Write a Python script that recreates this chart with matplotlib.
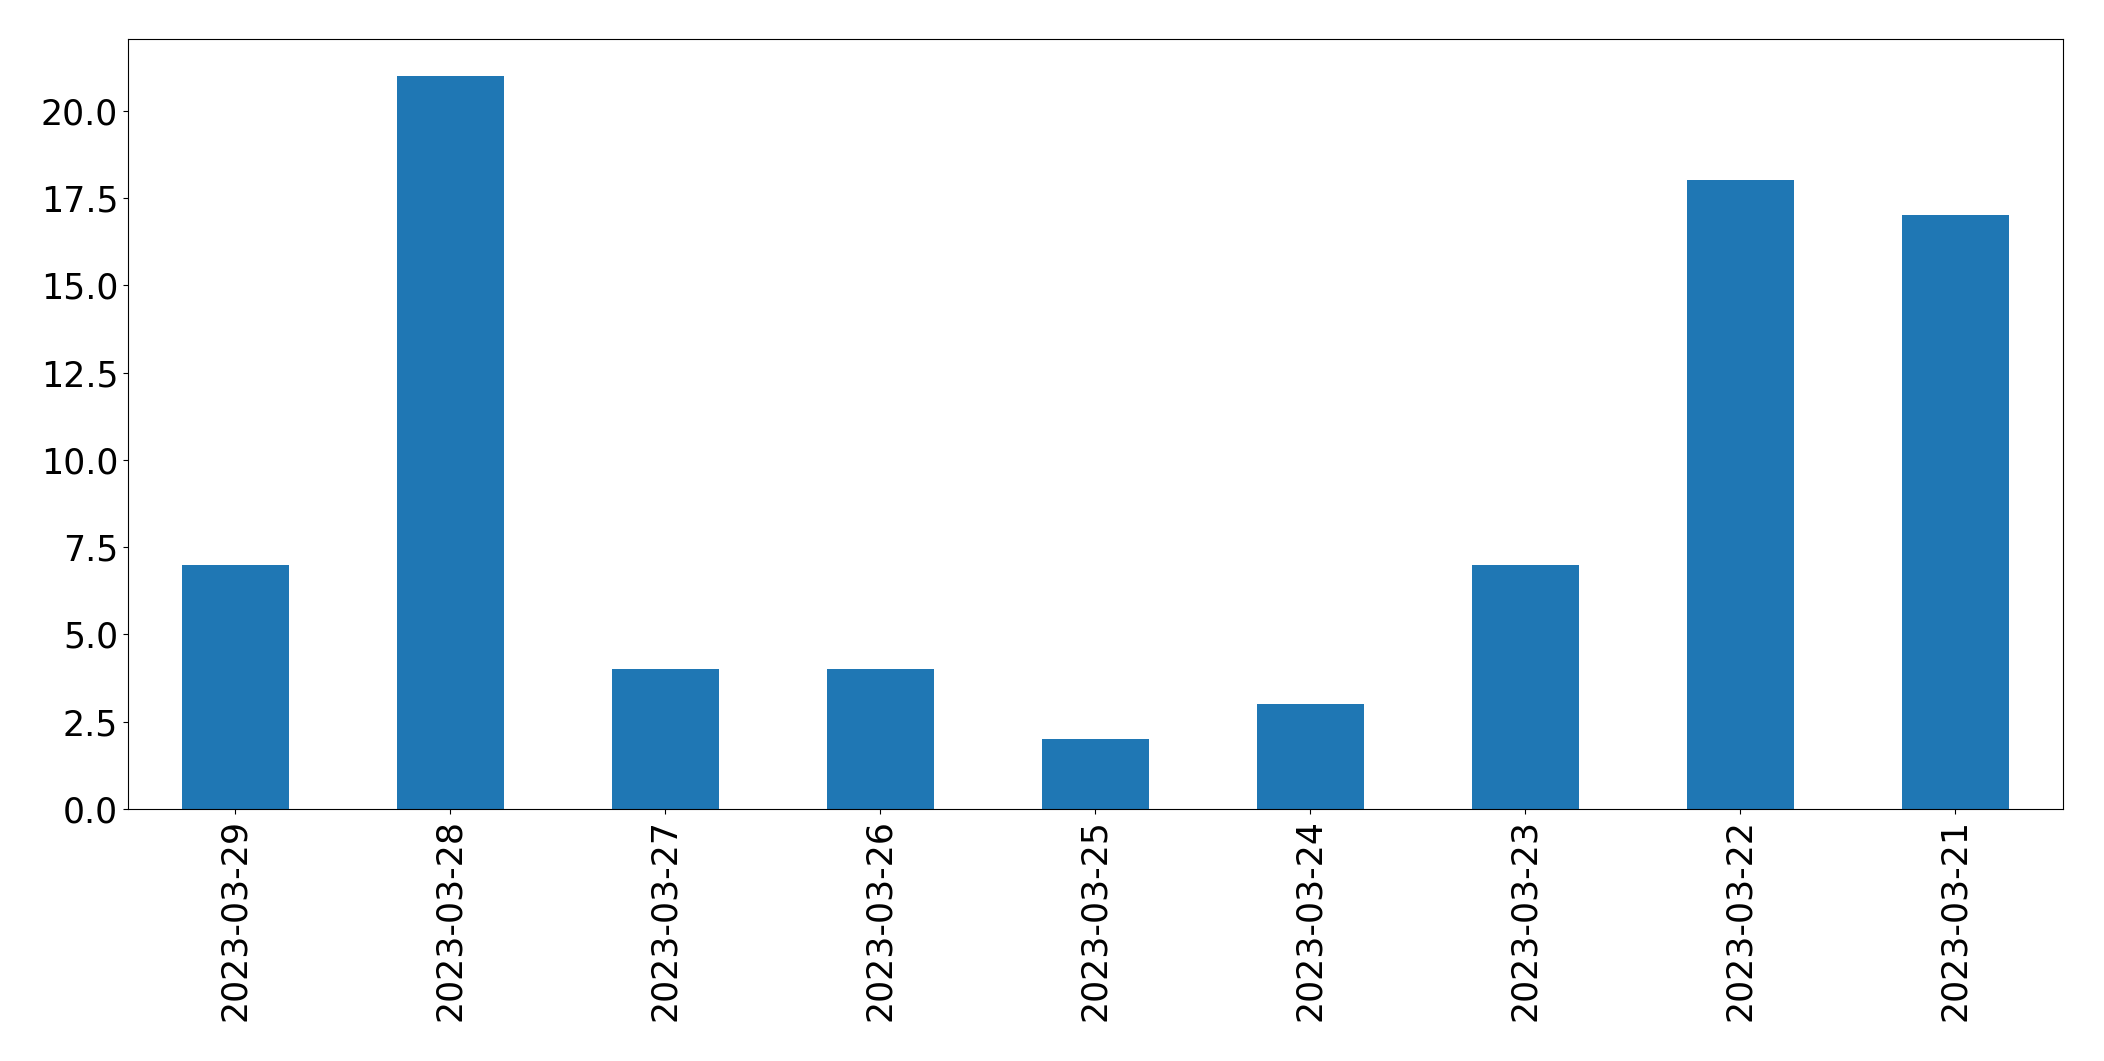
import matplotlib
matplotlib.use("Agg")
import matplotlib.pyplot as plt
import pandas as pd

dates = ["2023-03-29", "2023-03-28", "2023-03-27", "2023-03-26", "2023-03-25",
         "2023-03-24", "2023-03-23", "2023-03-22", "2023-03-21"]
counts = [7, 21, 4, 4, 2, 3, 7, 18, 17]

s = pd.Series(counts, index=dates)

fig = plt.figure(figsize=(21.04, 10.61), dpi=100)
ax = fig.add_axes([0.0608, 0.2375, 0.9197, 0.7257])
s.plot(kind="bar", ax=ax, color="#1f77b4", fontsize=25)
ax.tick_params(labelsize=25)
fig.savefig("out.png", dpi=100)
